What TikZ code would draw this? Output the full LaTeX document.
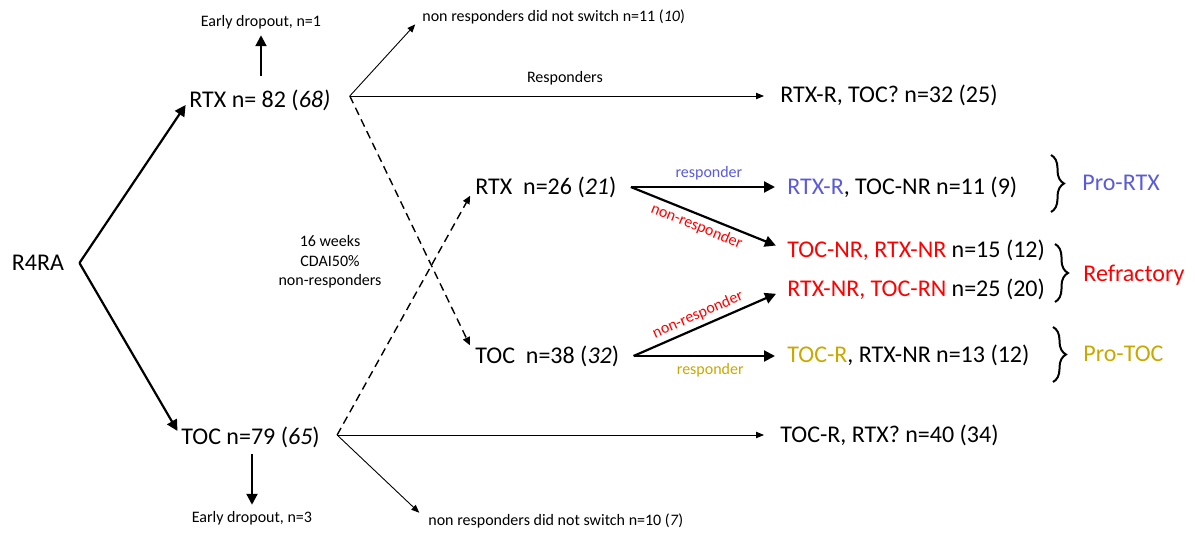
\documentclass[tikz,border=0pt]{standalone}
\usepackage{fontspec}
\setmainfont{Carlito}
\usetikzlibrary{arrows.meta,positioning,decorations.pathreplacing}
\definecolor{rtxc}{HTML}{5A5ADC}
\definecolor{tocc}{HTML}{C9A800}
\definecolor{refc}{HTML}{FF0000}
\tikzset{
  big/.style={font=\fontsize{12}{14}\selectfont,inner sep=0pt},
  sml/.style={font=\fontsize{8}{9.75}\selectfont,inner sep=0pt},
  thk/.style={-{Triangle[length=5.5pt,width=5.5pt]},line width=1.1pt},
  thn/.style={-{Triangle[length=4pt,width=3.2pt]},line width=0.45pt},
  dsh/.style={-{Triangle[length=4pt,width=3.6pt]},line width=0.7pt,dash pattern=on 4pt off 2.5pt},
  brc/.style={decorate,decoration={brace,amplitude=6.5pt},line width=1pt},
}

\begin{document}
\begin{tikzpicture}[x=0.5pt,y=-0.5pt]
\useasboundingbox (0,0) rectangle (1195,534);
% first randomisation
\node[big] (r4ra) at (38,263) {R4RA};
\node[big,anchor=west] (rtxA) at (189,100) {RTX n= 82 (\textit{68)}};
\node[big,anchor=west] (tocA) at (181,437) {TOC n=79 (\textit{65})};
\coordinate (split) at ([xshift=7.5pt]r4ra.east);
\draw[thk,shorten >=3pt] (split) -- (rtxA.west);
\draw[thk,shorten >=3.5pt] (split) -- (tocA.west);
% dropouts
\node[sml] (drop1) at (261,22) {Early dropout, n=1};
\node[sml] (drop2) at (252,518) {Early dropout, n=3};
\draw[thk,shorten <=6.5pt,shorten >=3pt] (rtxA.north -| drop1.south) -- (drop1.south);
\draw[thk,shorten <=3pt,shorten >=3pt] (tocA.south -| drop2.north) -- (drop2.north);
% no switch
\coordinate (rtxAo) at ([xshift=9.5pt,yshift=2pt]rtxA.east);
\coordinate (tocAo) at ([xshift=8.5pt,yshift=1pt]tocA.east);
\node[sml,anchor=west] (nsw1) at (422,17) {non responders did not switch n=11 (\textit{10})};
\node[sml,anchor=west] (nsw2) at (428,521) {non responders did not switch n=10 (\textit{7})};
\node[big,anchor=west] (rtxR) at (780,95) {RTX-R, TOC? n=32 (25)};
\node[big,anchor=west] (tocR) at (780,435) {TOC-R, RTX? n=40 (34)};
\draw[thn,shorten >=5pt] (rtxAo) -- (nsw1.west);
\draw[thn,shorten >=6pt] (tocAo) -- (nsw2.west);
\draw[thn,shorten >=8pt] (rtxAo) -- node[sml,above=5pt] {Responders} (rtxAo -| rtxR.west);
\draw[thn,shorten >=8pt] (tocAo) -- (tocAo -| tocR.west);
% switch
\node[sml,align=center] (wk) at (330,262) {16 weeks\\CDAI50\%\\non-responders};
\node[big,anchor=west] (rtxB) at (475,187) {RTX\ \ n=26 (\textit{21})};
\node[big,anchor=west] (tocB) at (475,356) {TOC\ \ n=38 (\textit{32})};
\draw[dsh,shorten >=6pt] (rtxAo) -- (tocB.west);
\draw[dsh,shorten >=5pt] (tocAo) -- (rtxB.west);
% outcomes
\node[big,anchor=west] (o1) at (787,187) {{\color{rtxc}RTX-R}, TOC-NR n=11 (9)};
\node[big,anchor=west] (o2) at (787,250) {{\color{refc}TOC-NR, RTX-NR} n=15 (12)};
\node[big,anchor=west] (o3) at (787,289) {{\color{refc}RTX-NR, TOC-RN} n=25 (20)};
\node[big,anchor=west] (o4) at (787,355) {{\color{tocc}TOC-R}, RTX-NR n=13 (12)};
\coordinate (rtxBo) at ([xshift=7pt]rtxB.east);
\coordinate (tocBo) at ([xshift=7pt]tocB.east);
\draw[thk,shorten >=6pt] (rtxBo) -- node[sml,above=3pt,text=rtxc] {responder} (rtxBo -| o1.west);
\draw[thk,shorten >=6pt] (rtxBo) -- node[sml,sloped,below=2pt,pos=0.45,text=refc] {non-responder} (o2.west);
\draw[thk,shorten >=6pt] (tocBo) -- node[sml,sloped,above=2pt,pos=0.45,text=refc] {non-responder} (o3.west);
\draw[thk,shorten >=6pt] (tocBo) -- node[sml,below=3pt,text=tocc] {responder} (tocBo -| o4.west);
% groups
\draw[brc] (1051,155) -- (1051,212);
\draw[brc] (1055,244) -- (1055,302);
\draw[brc] (1053,327) -- (1053,382);
\node[big,anchor=west,text=rtxc] (prortx) at (1082,183) {Pro-RTX};
\node[big,anchor=west,text=refc] (refr) at (1083,275) {Refractory};
\node[big,anchor=west,text=tocc] (protoc) at (1083,354) {Pro-TOC};
\end{tikzpicture}
\end{document}
